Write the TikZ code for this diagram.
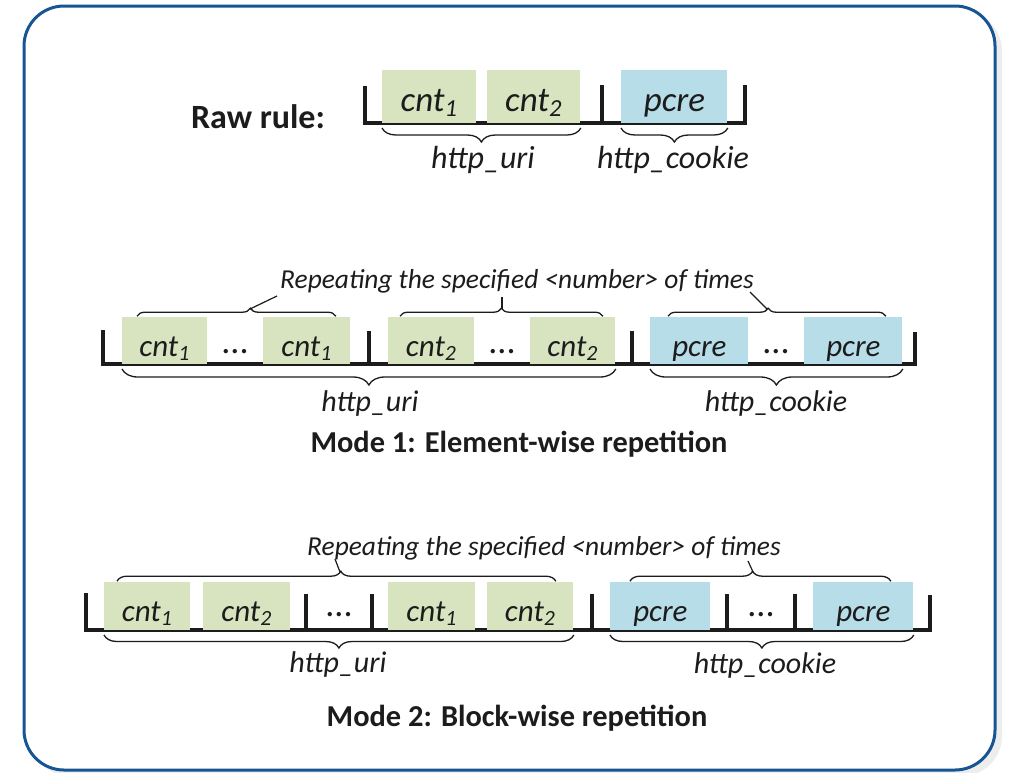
\documentclass[tikz,border=0pt]{standalone}
\usepackage{fontspec}
\setmainfont{Carlito}
\usetikzlibrary{decorations.pathreplacing}
\definecolor{cntgreen}{RGB}{216,228,191}
\definecolor{pcreblue}{RGB}{183,221,232}
\definecolor{frameblue}{RGB}{23,84,148}
\definecolor{ink}{RGB}{28,28,28}
\newcommand{\cnt}[1]{cnt\textsubscript{#1}}
\begin{document}
\begin{tikzpicture}[x=0.5pt, y=-0.5pt, color=ink,
    cell/.style={anchor=south west, inner sep=0pt, text depth=0pt, text height=16pt,
                 font=\fontsize{15.5}{18}\selectfont\itshape},
    dots/.style={inner sep=0pt, font=\fontsize{18}{20}\selectfont},
    rail/.style={line width=1.6pt},
    ptr/.style={line width=0.6pt},
    brc/.style={decorate, line width=0.65pt, decoration={brace, amplitude=#1}},
    lbl/.style={anchor=base, inner sep=0pt, font=\fontsize{15}{18}\selectfont\itshape},
    rep/.style={anchor=base, inner sep=0pt, font=\fontsize{13.7}{16}\selectfont\itshape},
    ttl/.style={anchor=base, inner sep=0pt, font=\fontsize{15.2}{18}\selectfont\bfseries}]
  \useasboundingbox (0,0) rectangle (1010,772);
  % frame
  \fill[gray!14, rounded corners=20pt] (30,11) rectangle (1002,776);
  \draw[frameblue, line width=1.5pt, fill=white, rounded corners=20pt] (24,6) rectangle (995,770);

  % raw rule
  \node[ttl, font=\fontsize{17}{20}\selectfont\bfseries] (raw) at (258,128) {Raw rule:};
  \draw[rail] (365,86) -- (365,123) -- (745,123) -- (745,85);
  \draw[rail] (602,85) -- (602,123);
  \foreach \n/\x/\w/\f/\t in {r1/382/94/cntgreen/{\cnt{1}},
                              r2/487/93/cntgreen/{\cnt{2}},
                              r3/621/106/pcreblue/{pcre}}
    \node[cell, fill=\f, font=\fontsize{17.5}{20}\selectfont\itshape, text height=15pt,
          minimum width=\w*0.5pt, minimum height=26.5pt] (\n) at (\x,123) {\t};
  \draw[brc=7pt] ([yshift=-2.5pt]r2.south east) -- ([yshift=-2.5pt]r1.south west);
  \draw[brc=7pt] ([yshift=-2.5pt]r3.south east) -- ([yshift=-2.5pt]r3.south west);
  \node[lbl, font=\fontsize{16}{18}\selectfont\itshape] (uri1) at (483,168) {http\_uri};
  \node[lbl, font=\fontsize{16}{18}\selectfont\itshape] (cookie1) at (673,168) {http\_cookie};

  % mode 1
  \node[rep] (rep1) at (517,288) {Repeating the specified <number> of times};
  \draw[rail] (103,330) -- (103,364) -- (915,364) -- (915,332);
  \foreach \x in {369,632} \draw[rail] (\x,331) -- (\x,364);
  \foreach \n/\x/\w/\f/\t in {m1/122/85/cntgreen/{\cnt{1}}, m2/263/87/cntgreen/{\cnt{1}},
                              m3/388/86/cntgreen/{\cnt{2}}, m4/530/85/cntgreen/{\cnt{2}},
                              m5/650/98/pcreblue/{pcre}, m6/804/98/pcreblue/{pcre}}
    \node[cell, fill=\f, minimum width=\w*0.5pt, minimum height=23.5pt] (\n) at (\x,364) {\t};
  \foreach \n/\x in {md1/235, md2/502, md3/776}
    \node[dots] (\n) at (\x,352) {...};
  \draw[brc=4pt, decoration={aspect=0.57}] ([xshift=7.5pt]m1.north west) -- ([xshift=-7.5pt]m2.north east);
  \draw[brc=4pt] ([xshift=6pt]m3.north west) -- ([xshift=-6.5pt]m4.north east);
  \draw[brc=4pt, decoration={aspect=0.46}] ([xshift=9pt]m5.north west) -- ([xshift=-8.5pt]m6.north east);
  \draw[brc=8pt] ([yshift=-2.5pt]m4.south east) -- ([yshift=-2.5pt]m1.south west);
  \draw[brc=8pt] ([yshift=-2.5pt]m6.south east) -- ([yshift=-2.5pt]m5.south west);
  \node[lbl] (uri2) at (370,411) {http\_uri};
  \node[lbl] (cookie2) at (776,411) {http\_cookie};
  \node[ttl] (mode1) at (519,452) {Mode 1: Element-wise repetition};

  % mode 2
  \node[rep] (rep2) at (544,555) {Repeating the specified <number> of times};
  \draw[rail] (86,593) -- (86,630) -- (930,630) -- (930,595);
  \foreach \x in {306,372,592,727,795} \draw[rail] (\x,594) -- (\x,630);
  \foreach \n/\x/\w/\f/\t in {b1/104/86/cntgreen/{\cnt{1}}, b2/203/87/cntgreen/{\cnt{2}},
                              b3/388/87/cntgreen/{\cnt{1}}, b4/487/86/cntgreen/{\cnt{2}},
                              b5/610/100/pcreblue/{pcre}, b6/813/100/pcreblue/{pcre}}
    \node[cell, fill=\f, minimum width=\w*0.5pt, minimum height=24pt] (\n) at (\x,630) {\t};
  \foreach \n/\x in {bd1/339, bd2/761}
    \node[dots] (\n) at (\x,615) {...};
  \draw[brc=5pt, decoration={aspect=0.51}] ([xshift=6.5pt]b1.north west) -- ([xshift=-9pt]b4.north east);
  \draw[brc=5pt, decoration={aspect=0.47}] ([xshift=10pt]b5.north west) -- ([xshift=-11.5pt]b6.north east);
  \draw[brc=6.5pt] ([yshift=-2.5pt]b4.south east) -- ([yshift=-2.5pt]b1.south west);
  \draw[brc=6.5pt] ([yshift=-2.5pt]b6.south east) -- ([yshift=-2.5pt]b5.south west);
  \node[lbl] (uri3) at (338,672) {http\_uri};
  \node[lbl] (cookie3) at (765,673) {http\_cookie};
  \node[ttl] (mode2) at (517,726) {Mode 2: Block-wise repetition};

  % pointers from braces to the repeat notes
  \foreach \a/\b/\c/\d [count=\k] in {250/309/277/296, 502/309/502/297, 767/309/750/292,
                                      340/572/335/559, 753/572/748/561} {
    \coordinate (tip\k) at (\a,\b);
    \coordinate (note\k) at (\c,\d);
    \draw[ptr] (tip\k) -- (note\k);
  }
\end{tikzpicture}
\end{document}
